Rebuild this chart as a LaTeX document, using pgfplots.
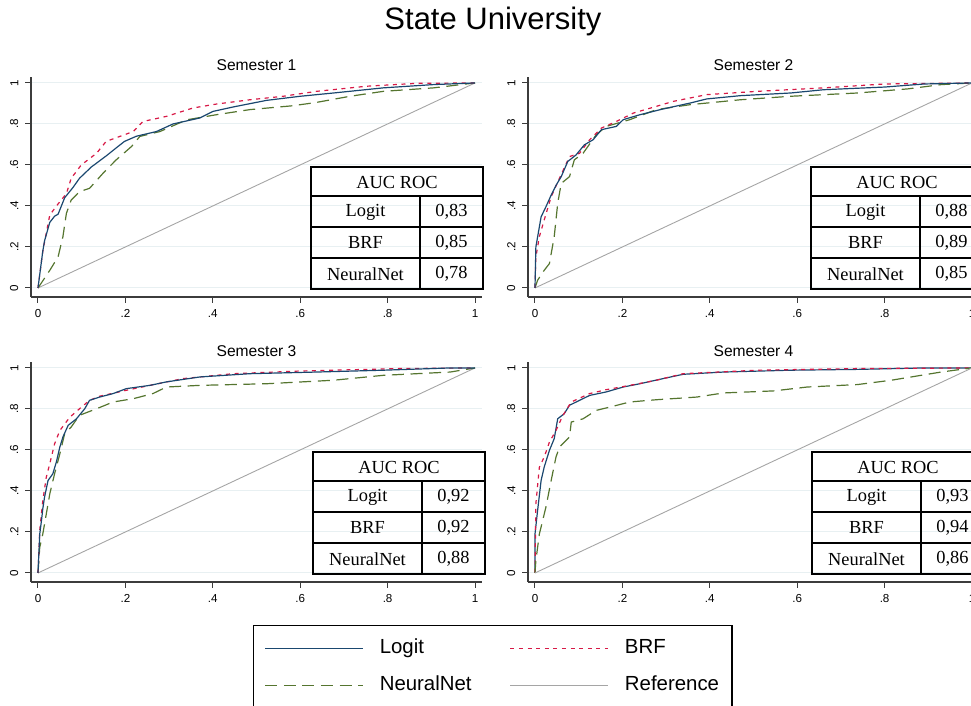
\documentclass[border=0pt]{standalone}
\usepackage{pgfplots}
\pgfplotsset{compat=1.18}
\usepackage{fontspec}
\setmainfont{Liberation Sans}
\newfontfamily\timesf{Liberation Serif}
\definecolor{cLogit}{RGB}{26,71,111}
\definecolor{cBRF}{RGB}{215,25,70}
\definecolor{cNN}{RGB}{85,117,47}
\definecolor{cRef}{RGB}{165,165,165}
\definecolor{cGrid}{RGB}{232,240,242}
\definecolor{cAxis}{RGB}{60,60,60}
\pgfplotsset{
  rocax/.style={
    scale only axis, width=225.5pt, height=110pt,
    xmin=-0.016, xmax=1.016, ymin=-0.044, ymax=1.029,
    axis x line*=bottom, axis y line*=left,
    axis line style={draw=cAxis, line width=0.6pt},
    xtick={0,0.2,0.4,0.6,0.8,1}, xticklabels={0,.2,.4,.6,.8,1},
    ytick={0,0.2,0.4,0.6,0.8,1}, yticklabels={0,.2,.4,.6,.8,1},
    tick align=outside, major tick length=2.8pt,
    tick style={draw=cAxis, line width=0.5pt},
    ymajorgrids, major grid style={draw=cGrid, line width=0.5pt},
    ticklabel style={font=\fontsize{5.8}{6}\selectfont},
    yticklabel style={rotate=90, anchor=south},
    clip=false,
  },
  logit/.style={draw=cLogit, line width=0.6pt},
  brf/.style={draw=cBRF, line width=0.6pt, dash pattern=on 2pt off 2.3pt},
  nn/.style={draw=cNN, line width=0.6pt, dash pattern=on 6pt off 3.3pt},
  refl/.style={draw=cRef, line width=0.45pt},
}
\newcommand\auctab[5]{%
  \draw[line width=0.9pt] (#1,#2) rectangle ++(172,122);
  \draw[line width=0.9pt] (#1,#2+29) -- ++(172,0);
  \draw[line width=0.9pt] (#1,#2+60) -- ++(172,0);
  \draw[line width=0.9pt] (#1,#2+91) -- ++(172,0);
  \draw[line width=0.9pt] (#1+109,#2+29) -- ++(0,93);
  \node[font=\timesf\fontsize{9.2}{11}\selectfont] at (#1+86,#2+15) {AUC ROC};
  \node[font=\timesf\fontsize{9.2}{11}\selectfont] at (#1+54.5,#2+45) {Logit};
  \node[font=\timesf\fontsize{9.2}{11}\selectfont] at (#1+54.5,#2+76) {BRF};
  \node[font=\timesf\fontsize{9.2}{11}\selectfont] at (#1+54.5,#2+107) {NeuralNet};
  \node[font=\timesf\fontsize{9.2}{11}\selectfont] at (#1+140.5,#2+45) {#3};
  \node[font=\timesf\fontsize{9.2}{11}\selectfont] at (#1+140.5,#2+76) {#4};
  \node[font=\timesf\fontsize{9.2}{11}\selectfont] at (#1+140.5,#2+107) {#5};
}
\begin{document}
\begin{tikzpicture}
\path[use as bounding box] (0,0) rectangle (485.5pt,-353pt);

% ---------------- Semester 1
\begin{axis}[rocax, at={(15.5pt,-148.5pt)}, anchor=south west]
\addplot[refl] coordinates {(0,0) (1,1)};
\addplot[nn] coordinates {(0,0) (0.027,0.086) (0.046,0.152) (0.057,0.25) (0.065,0.364) (0.076,0.429) (0.095,0.47) (0.118,0.486) (0.149,0.56) (0.179,0.625) (0.214,0.69) (0.233,0.739) (0.279,0.763) (0.34,0.82) (0.408,0.845) (0.485,0.87) (0.584,0.889) (0.637,0.905) (0.714,0.935) (0.79,0.959) (0.905,0.976) (1,1)};
\addplot[brf] coordinates {(0,0) (0.011,0.18) (0.027,0.356) (0.046,0.41) (0.065,0.46) (0.076,0.535) (0.099,0.60) (0.134,0.657) (0.156,0.715) (0.187,0.739) (0.218,0.763) (0.24,0.812) (0.294,0.837) (0.355,0.878) (0.408,0.897) (0.485,0.918) (0.561,0.935) (0.637,0.959) (0.752,0.984) (0.866,0.998) (1,1)};
\addplot[logit] coordinates {(0,0) (0.011,0.18) (0.015,0.23) (0.027,0.32) (0.038,0.35) (0.046,0.36) (0.061,0.44) (0.08,0.49) (0.095,0.535) (0.122,0.59) (0.156,0.644) (0.183,0.69) (0.198,0.715) (0.225,0.74) (0.271,0.763) (0.309,0.80) (0.37,0.829) (0.40,0.861) (0.447,0.883) (0.523,0.915) (0.6,0.935) (0.676,0.951) (0.79,0.976) (0.905,0.992) (1,1)};
\end{axis}

% ---------------- Semester 2
\begin{axis}[rocax, at={(264pt,-148.5pt)}, anchor=south west]
\addplot[refl] coordinates {(0,0) (1,1)};
\addplot[nn] coordinates {(0,0) (0.006,0.038) (0.021,0.086) (0.033,0.119) (0.044,0.25) (0.052,0.413) (0.06,0.51) (0.079,0.543) (0.09,0.625) (0.11,0.657) (0.14,0.747) (0.163,0.788) (0.217,0.821) (0.278,0.87) (0.355,0.894) (0.47,0.918) (0.585,0.935) (0.738,0.951) (0.853,0.971) (0.93,0.992) (1,1)};
\addplot[brf] coordinates {(0,0) (0.002,0.15) (0.01,0.25) (0.021,0.331) (0.037,0.445) (0.056,0.535) (0.079,0.641) (0.102,0.657) (0.125,0.723) (0.152,0.78) (0.186,0.812) (0.225,0.853) (0.278,0.886) (0.316,0.91) (0.393,0.943) (0.508,0.959) (0.661,0.976) (0.8,0.995) (1,1)};
\addplot[logit] coordinates {(0,0) (0.002,0.2) (0.014,0.347) (0.025,0.396) (0.037,0.453) (0.048,0.50) (0.06,0.543) (0.075,0.617) (0.094,0.649) (0.113,0.698) (0.133,0.723) (0.152,0.772) (0.186,0.788) (0.202,0.821) (0.24,0.845) (0.293,0.873) (0.355,0.902) (0.393,0.922) (0.47,0.938) (0.585,0.951) (0.661,0.967) (0.8,0.98) (0.891,0.995) (1,1)};
\end{axis}

% ---------------- Semester 3
\begin{axis}[rocax, at={(15.5pt,-291pt)}, anchor=south west]
\addplot[refl] coordinates {(0,0) (1,1)};
\addplot[nn] coordinates {(0,0) (0.004,0.125) (0.011,0.19) (0.019,0.288) (0.027,0.386) (0.038,0.484) (0.05,0.581) (0.061,0.679) (0.076,0.712) (0.095,0.769) (0.134,0.801) (0.172,0.834) (0.218,0.85) (0.263,0.875) (0.294,0.907) (0.37,0.915) (0.523,0.923) (0.676,0.94) (0.79,0.964) (0.943,0.98) (1,1)};
\addplot[brf] coordinates {(0,0) (0.004,0.207) (0.011,0.353) (0.019,0.467) (0.027,0.533) (0.038,0.63) (0.05,0.695) (0.073,0.76) (0.095,0.801) (0.118,0.842) (0.141,0.862) (0.202,0.891) (0.256,0.915) (0.332,0.948) (0.447,0.972) (0.599,0.985) (0.828,0.997) (1,1)};
\addplot[logit] coordinates {(0,0) (0.004,0.19) (0.008,0.256) (0.011,0.313) (0.015,0.37) (0.023,0.451) (0.034,0.484) (0.042,0.541) (0.05,0.614) (0.057,0.663) (0.069,0.72) (0.088,0.752) (0.107,0.801) (0.118,0.842) (0.141,0.858) (0.172,0.875) (0.202,0.899) (0.256,0.915) (0.294,0.932) (0.37,0.956) (0.485,0.972) (0.637,0.98) (0.79,0.989) (0.943,1.0) (1,1)};
\end{axis}

% ---------------- Semester 4 (with legend)
\begin{axis}[rocax, at={(264pt,-291pt)}, anchor=south west,
  legend columns=2,
  legend image code/.code={\draw[#1] (0pt,0pt) -- (49pt,0pt);},
  legend style={at={(-0.6098,-0.1955)}, anchor=north west,
    draw=black, line width=0.6pt, inner xsep=5.5pt, inner ysep=6.5pt,
    font=\fontsize{10.2}{12}\selectfont,
    nodes={inner sep=0pt, text height=7.5pt, text depth=2.5pt},
    row sep=8.5pt,
    /tikz/every odd column/.append style={column sep=8pt},
    /tikz/every even column/.append style={column sep=0pt}},
  legend cell align=left]
\addplot[logit] coordinates {(0,0) (0,0.19) (0.006,0.305) (0.014,0.451) (0.021,0.516) (0.033,0.598) (0.044,0.655) (0.052,0.752) (0.067,0.777) (0.079,0.818) (0.102,0.842) (0.125,0.866) (0.163,0.883) (0.202,0.907) (0.24,0.923) (0.293,0.948) (0.339,0.969) (0.431,0.98) (0.585,0.989) (0.738,0.993) (0.891,1.0) (1,1)};
\addlegendentry{\makebox[65pt][l]{Logit}}
\addplot[brf] coordinates {(0,0) (0.002,0.337) (0.01,0.516) (0.021,0.565) (0.033,0.638) (0.048,0.695) (0.064,0.769) (0.083,0.834) (0.125,0.875) (0.163,0.894) (0.217,0.915) (0.278,0.94) (0.339,0.972) (0.508,0.989) (0.738,0.997) (1,1)};
\addlegendentry{\makebox[48pt][l]{BRF}}
\addplot[nn] coordinates {(0,0) (0.002,0.06) (0.01,0.19) (0.025,0.321) (0.037,0.451) (0.048,0.565) (0.056,0.614) (0.067,0.638) (0.079,0.663) (0.083,0.736) (0.11,0.752) (0.14,0.793) (0.171,0.809) (0.217,0.834) (0.278,0.845) (0.37,0.858) (0.431,0.878) (0.546,0.888) (0.623,0.907) (0.738,0.919) (0.815,0.94) (0.929,0.98) (1,1)};
\addlegendentry{\makebox[65pt][l]{NeuralNet}}
\addplot[refl] coordinates {(0,0) (1,1)};
\addlegendentry{\makebox[48pt][l]{Reference}}
\end{axis}

\begin{scope}[x=0.5pt, y=-0.5pt]
\node[font=\fontsize{15.5}{18}\selectfont] at (493,21) {State University};
\node[font=\fontsize{7.8}{9}\selectfont] at (256.5,65) {Semester 1};
\node[font=\fontsize{7.8}{9}\selectfont] at (753.5,65) {Semester 2};
\node[font=\fontsize{7.8}{9}\selectfont] at (256.5,351) {Semester 3};
\node[font=\fontsize{7.8}{9}\selectfont] at (753.5,351) {Semester 4};
\auctab{311}{167}{0,83}{0,85}{0,78}
\auctab{811}{167}{0,88}{0,89}{0,85}
\auctab{313}{452}{0,92}{0,92}{0,88}
\auctab{812}{452}{0,93}{0,94}{0,86}
\end{scope}
\end{tikzpicture}
\end{document}
